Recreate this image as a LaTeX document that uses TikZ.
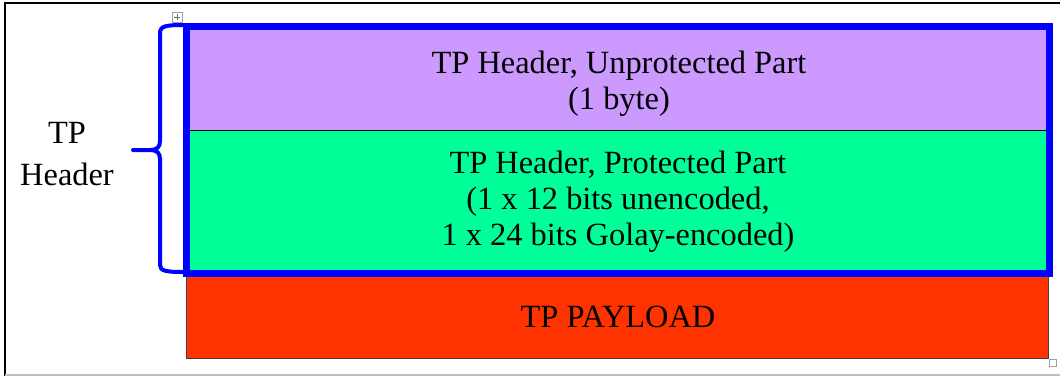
\documentclass[tikz,border=0pt]{standalone}
\usepackage{fontspec}
\setmainfont{Liberation Serif}
\definecolor{hdrpurple}{HTML}{CC99FF}
\definecolor{hdrgreen}{HTML}{00FF99}
\definecolor{payred}{HTML}{FF3300}
\definecolor{handlegray}{HTML}{A0A0A0}
\begin{document}
\begin{tikzpicture}[x=0.75pt,y=-0.75pt,
  boxtext/.style={inner sep=0pt, align=center, font=\fontsize{24.3}{27}\selectfont},
  bluebrace/.style={draw=blue, line width=3pt, line join=round, line cap=round},
  handle/.style={draw=handlegray, line width=0.6pt, fill=white}]
\useasboundingbox (0,0) rectangle (1060,376);
% outer frame
\draw[black, line width=1.5pt] (5,376) -- (5,3) -- (1060,3);
\draw[black!25, line width=1pt] (5,375) -- (1060,375);
% payload
\fill[payred] (186,277) rectangle (1048,358);
\draw[black!75, line width=0.75pt] (186,277) -- (186,358) -- (1048,358) -- (1048,277);
% header parts
\fill[hdrpurple] (186,26) rectangle (1049,131);
\fill[hdrgreen] (186,131) rectangle (1049,273);
\draw[black, line width=0.9pt] (190,130.5) -- (1046,130.5);
\draw[blue, line width=5.25pt] (186.5,26.5) rectangle (1049.5,273.5);
% texts
\node[boxtext] (unprot) at (619,84) {TP Header, Unprotected Part\\(1 byte)};
\node[boxtext] (prot) at (618,202) {TP Header, Protected Part\\(1 x 12 bits unencoded,\\1 x 24 bits Golay-encoded)};
\node[boxtext, anchor=base] (payload) at (618,327) {TP PAYLOAD};
\node[boxtext, font=\fontsize{24.3}{31}\selectfont] (tphdr) at (67,154) {TP\\Header};
% brace
\coordinate (btop) at (184,25);
\coordinate (bbot) at (184,272);
\coordinate (btip) at (133,150);
\draw[bluebrace] (btop) .. controls (166,25) and (160,26) .. (160,33) -- (160,141)
  .. controls (160,147) and (157,150) .. (150,150) -- (btip);
\draw[bluebrace] (150,150) .. controls (157,150) and (160,153) .. (160,159) -- (160,265)
  .. controls (160,271) and (166,272) .. (bbot);
% word handles
\draw[handle] (172,12) rectangle (182,22);
\draw[black!60, line width=0.4pt] (174,17) -- (180,17) (177,14) -- (177,20);
\draw[handle] (1049,359) rectangle (1056,366);
\end{tikzpicture}
\end{document}
